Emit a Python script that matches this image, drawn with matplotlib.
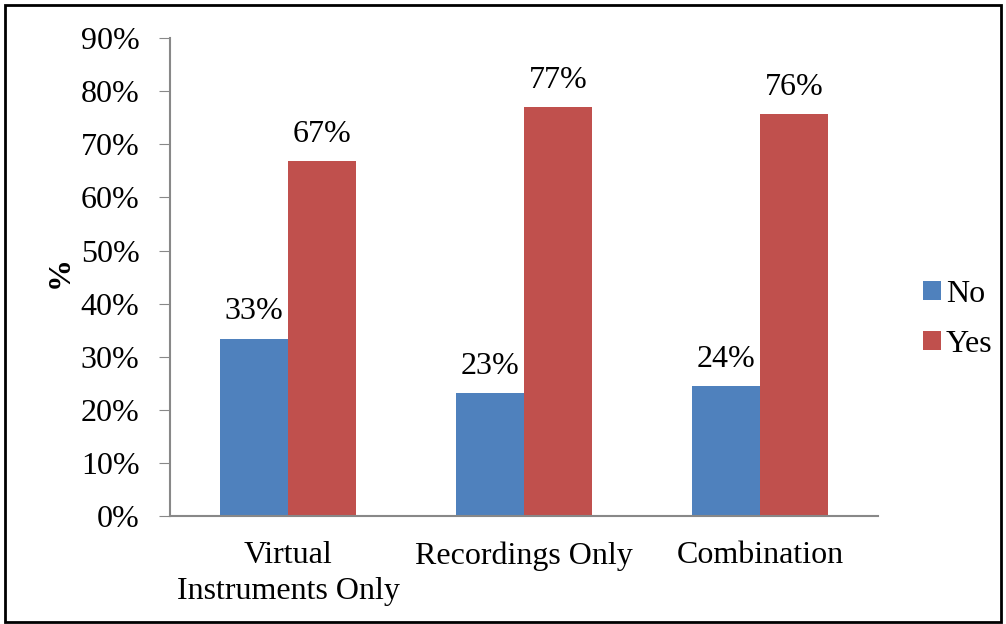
import numpy as np
import matplotlib
matplotlib.use("Agg")
import matplotlib.pyplot as plt
from matplotlib.patches import Rectangle

categories = ["Virtual\nInstruments Only", "Recordings Only", "Combination"]
no_vals = [33.4, 23.2, 24.4]
yes_vals = [66.8, 77.0, 75.7]
no_labels = ["33%", "23%", "24%"]
yes_labels = ["67%", "77%", "76%"]

plt.rcParams["font.family"] = ["Liberation Serif", "DejaVu Serif"]
fs = 23

fig = plt.figure(figsize=(10.06, 6.24), dpi=100)
ax = fig.add_axes([0.169, 0.173, 0.704, 0.766])

x = np.arange(len(categories))
w = 0.288
b1 = ax.bar(x - w / 2, no_vals, w, color="#4F81BD", label="No")
b2 = ax.bar(x + w / 2, yes_vals, w, color="#C0504D", label="Yes")

for bar, lab in zip(b1, no_labels):
    ax.text(bar.get_x() + bar.get_width() / 2, bar.get_height() + 2.3, lab,
            ha="center", va="bottom", fontsize=fs)
for bar, lab in zip(b2, yes_labels):
    ax.text(bar.get_x() + bar.get_width() / 2, bar.get_height() + 2.3, lab,
            ha="center", va="bottom", fontsize=fs)

ax.set_xlim(-0.5, 2.5)
ax.set_ylim(0, 90)
ax.set_yticks(np.arange(0, 91, 10))
ax.set_yticklabels([f"{v}%" for v in range(0, 91, 10)], fontsize=fs)
ax.set_xticks(x)
ax.set_xticklabels(categories, fontsize=fs, linespacing=1.3)
ax.tick_params(axis="x", length=0, pad=18)
ax.tick_params(axis="y", length=8, color="#888888", direction="out", pad=14)

for s in ["top", "right"]:
    ax.spines[s].set_visible(False)
ax.spines["left"].set_color("#888888")
ax.spines["bottom"].set_color("#888888")
ax.spines["left"].set_linewidth(1.5)
ax.spines["bottom"].set_linewidth(1.5)

ax.set_ylabel("%", fontsize=fs, fontweight="bold")
ax.yaxis.set_label_coords(-0.134, 0.51)

fig.legend(loc="center left", bbox_to_anchor=(0.902, 0.488), frameon=False,
           fontsize=fs, handlelength=0.55, handleheight=0.55, labelspacing=0.65,
           handletextpad=0.15, borderpad=0)

fig.patches.append(Rectangle((0.005, 0.004), 0.99, 0.988, transform=fig.transFigure,
                             fill=False, edgecolor="black", linewidth=2))

fig.savefig("out.png", dpi=100)
